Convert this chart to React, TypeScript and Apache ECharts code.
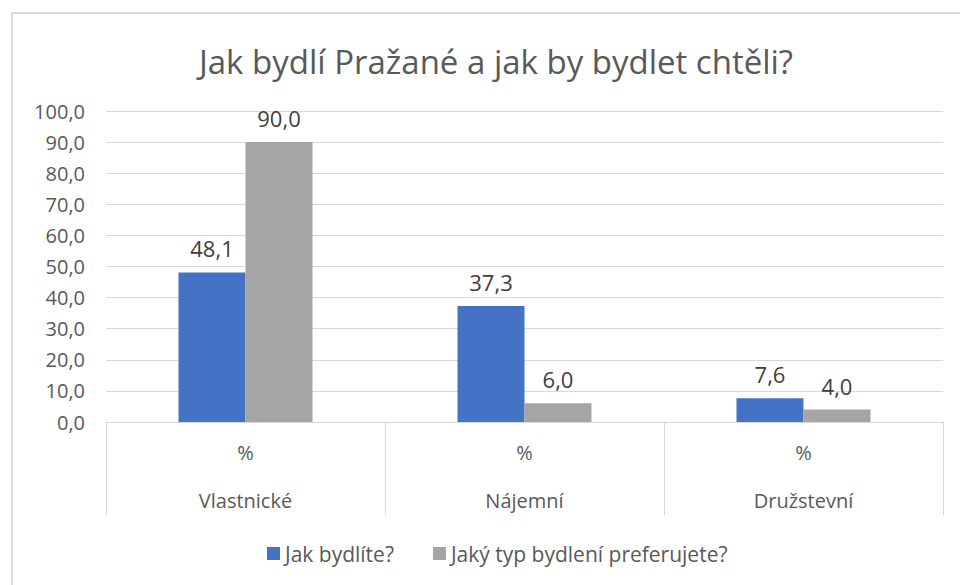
import React, { useEffect, useRef } from "react";
import * as echarts from "echarts";

const categories = ["Vlastnické", "Nájemní", "Družstevní"];
const subLabel = "%";
const seriesNames = ["Jak bydlíte?", "Jaký typ bydlení preferujete?"];
const currentValues = [48.1, 37.3, 7.6];
const preferredValues = [90.0, 6.0, 4.0];
const titleText = "Jak bydlí Pražané a jak by bydlet chtěli?";

const FONT = "'Open Sans', sans-serif";
const fmt = (v: number) => v.toFixed(1).replace(".", ",");

export default function App() {
  const ref = useRef<HTMLDivElement>(null);
  useEffect(() => {
    if (!ref.current) return;
    const chart = echarts.init(ref.current, undefined, { renderer: "svg" });
    const barLabel = {
      show: true,
      position: "top",
      distance: 13,
      fontFamily: FONT,
      fontSize: 22,
      color: "#404040",
      formatter: (p: any) => fmt(p.value),
    };
    chart.setOption({
      animation: false,
      textStyle: { fontFamily: FONT },
      graphic: [
        {
          type: "rect",
          shape: { x: 12, y: 13, width: 1000, height: 700 },
          style: { fill: "none", stroke: "#D9D9D9", lineWidth: 2 },
          silent: true,
          z: -1,
        },
        {
          type: "text",
          x: 496,
          y: 61,
          style: {
            text: titleText,
            fontFamily: FONT,
            fontSize: 33,
            fill: "#595959",
            textAlign: "center",
            textVerticalAlign: "middle",
          },
        },
      ],
      legend: {
        left: 262,
        top: 538,
        icon: "rect",
        itemWidth: 13,
        itemHeight: 13,
        itemGap: 39,
        textStyle: { fontFamily: FONT, fontSize: 21, color: "#595959" },
        data: seriesNames,
      },
      grid: { left: 106, right: 17, top: 111, bottom: 163 },
      xAxis: {
        type: "category",
        data: categories,
        axisLine: { show: true, lineStyle: { color: "#D9D9D9", width: 1 } },
        axisTick: { show: true, length: 93, interval: 0, lineStyle: { color: "#D9D9D9", width: 1 } },
        axisLabel: {
          interval: 0,
          margin: 18,
          fontFamily: FONT,
          fontSize: 20,
          lineHeight: 24,
          color: "#595959",
          formatter: (v: string) => `${subLabel}\n\n${v}`,
        },
      },
      yAxis: {
        type: "value",
        min: 0,
        max: 100,
        interval: 10,
        axisLine: { show: false },
        axisTick: { show: false },
        splitLine: { lineStyle: { color: "#D9D9D9", width: 1 } },
        axisLabel: {
          margin: 21,
          fontFamily: FONT,
          fontSize: 20,
          color: "#595959",
          formatter: (v: number) => fmt(v),
        },
      },
      series: [
        {
          name: seriesNames[0],
          type: "bar",
          data: currentValues,
          barWidth: 67,
          barGap: "0%",
          itemStyle: { color: "#4472C4" },
          label: barLabel,
        },
        {
          name: seriesNames[1],
          type: "bar",
          data: preferredValues,
          barWidth: 67,
          barGap: "0%",
          itemStyle: { color: "#A5A5A5" },
          label: barLabel,
        },
      ],
    });
    return () => chart.dispose();
  }, []);
  return (
    <div
      ref={ref}
      style={{ position: "fixed", left: 0, top: 0, width: 960, height: 585, background: "#fff" }}
    />
  );
}
